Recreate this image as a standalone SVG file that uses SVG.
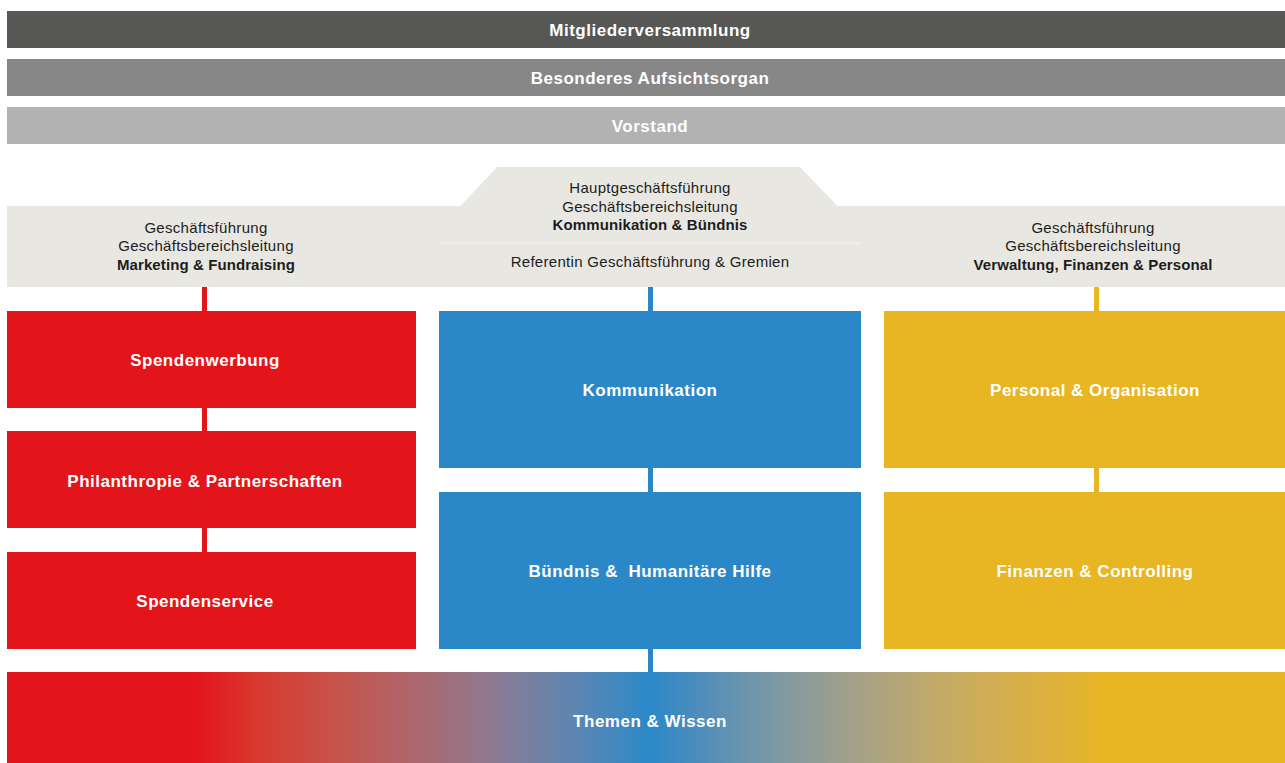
<svg xmlns="http://www.w3.org/2000/svg" width="1285" height="763" viewBox="0 0 1285 763">
<style>
.hb{font-family:"Liberation Sans",Arial,sans-serif;font-weight:bold;font-size:17px;letter-spacing:0.5px;fill:#fff;text-anchor:middle}
.bt{font-family:"Liberation Sans",Arial,sans-serif;font-size:15px;letter-spacing:0.3px;fill:#1d1d1b;text-anchor:middle}
.bb{font-weight:bold;letter-spacing:0.1px}
.red{fill:#e3141a}.blue{fill:#2b88c8}.yel{fill:#e8b622}
</style>
<defs>
<linearGradient id="grad" x1="7" y1="0" x2="1285" y2="0" gradientUnits="userSpaceOnUse">
<stop offset="0" stop-color="#e3141a"/>
<stop offset="0.147" stop-color="#e3141a"/>
<stop offset="0.198" stop-color="#d83a2e"/>
<stop offset="0.261" stop-color="#c5554d"/>
<stop offset="0.331" stop-color="#a86a74"/>
<stop offset="0.370" stop-color="#94768a"/>
<stop offset="0.401" stop-color="#7c7e9e"/>
<stop offset="0.441" stop-color="#6085b0"/>
<stop offset="0.480" stop-color="#4088c0"/>
<stop offset="0.503" stop-color="#2b88c8"/>
<stop offset="0.542" stop-color="#4f8cbc"/>
<stop offset="0.581" stop-color="#6e96ac"/>
<stop offset="0.620" stop-color="#8a9b9c"/>
<stop offset="0.660" stop-color="#a1a08a"/>
<stop offset="0.699" stop-color="#b5a678"/>
<stop offset="0.738" stop-color="#c6ab64"/>
<stop offset="0.777" stop-color="#d3ae50"/>
<stop offset="0.824" stop-color="#deb23a"/>
<stop offset="0.859" stop-color="#e8b622"/>
<stop offset="1" stop-color="#e8b622"/>
</linearGradient>
</defs>
<g id="mitgliederversammlung"><rect x="7" y="11" width="1278" height="37" fill="#575755"/><text class="hb" x="650" y="35.5">Mitgliederversammlung</text></g>
<g id="aufsichtsorgan"><rect x="7" y="59" width="1278" height="37" fill="#878787"/><text class="hb" x="650" y="83.5">Besonderes Aufsichtsorgan</text></g>
<g id="vorstand"><rect x="7" y="107" width="1278" height="37" fill="#b2b2b2"/><text class="hb" x="650" y="131.5">Vorstand</text></g>
<g id="leitung-band">
<rect x="7" y="206" width="1278" height="81" fill="#e8e7e2"/>
<polygon points="497,167 800,167 838,206.5 460,206.5" fill="#e8e7e2"/>
<line x1="440" y1="243" x2="860" y2="243" stroke="#f4f3f0" stroke-width="1"/>
</g>
<g id="gf-marketing"><text class="bt" x="206" y="233">Geschäftsführung</text><text class="bt" x="206" y="251">Geschäftsbereichsleitung</text><text class="bt bb" x="206" y="270">Marketing &amp; Fundraising</text></g>
<g id="hgf-kommunikation"><text class="bt" x="650" y="193">Hauptgeschäftsführung</text><text class="bt" x="650" y="212">Geschäftsbereichsleitung</text><text class="bt bb" x="650" y="230">Kommunikation &amp; Bündnis</text><text class="bt" x="650" y="267">Referentin Geschäftsführung &amp; Gremien</text></g>
<g id="gf-verwaltung"><text class="bt" x="1093" y="233">Geschäftsführung</text><text class="bt" x="1093" y="251">Geschäftsbereichsleitung</text><text class="bt bb" x="1093" y="270">Verwaltung, Finanzen &amp; Personal</text></g>
<g id="connectors">
<rect class="red" x="202" y="287" width="5" height="24"/>
<rect class="red" x="202" y="408" width="5" height="23"/>
<rect class="red" x="202" y="528" width="5" height="24"/>
<rect class="blue" x="648" y="287" width="5" height="24"/>
<rect class="blue" x="648" y="468" width="5" height="24"/>
<rect class="blue" x="648" y="649" width="5" height="23"/>
<rect class="yel" x="1094" y="287" width="5" height="24"/>
<rect class="yel" x="1094" y="468" width="5" height="24"/>
</g>
<g id="spendenwerbung"><rect class="red" x="7" y="311" width="409" height="97"/><text class="hb" x="205" y="365.5">Spendenwerbung</text></g>
<g id="philanthropie"><rect class="red" x="7" y="431" width="409" height="97"/><text class="hb" x="205" y="486.5">Philanthropie &amp; Partnerschaften</text></g>
<g id="spendenservice"><rect class="red" x="7" y="552" width="409" height="97"/><text class="hb" x="205" y="606.5">Spendenservice</text></g>
<g id="kommunikation"><rect class="blue" x="439" y="311" width="422" height="157"/><text class="hb" x="650" y="395.5">Kommunikation</text></g>
<g id="buendnis"><rect class="blue" x="439" y="492" width="422" height="157"/><text class="hb" x="650" y="576.5" xml:space="preserve">Bündnis &amp;  Humanitäre Hilfe</text></g>
<g id="personal"><rect class="yel" x="884" y="311" width="401" height="157"/><text class="hb" x="1095" y="395.5">Personal &amp; Organisation</text></g>
<g id="finanzen"><rect class="yel" x="884" y="492" width="401" height="157"/><text class="hb" x="1095" y="576.5">Finanzen &amp; Controlling</text></g>
<g id="themen"><rect x="7" y="672" width="1278" height="91" fill="url(#grad)"/><text class="hb" x="650" y="726.5">Themen &amp; Wissen</text></g>
</svg>
